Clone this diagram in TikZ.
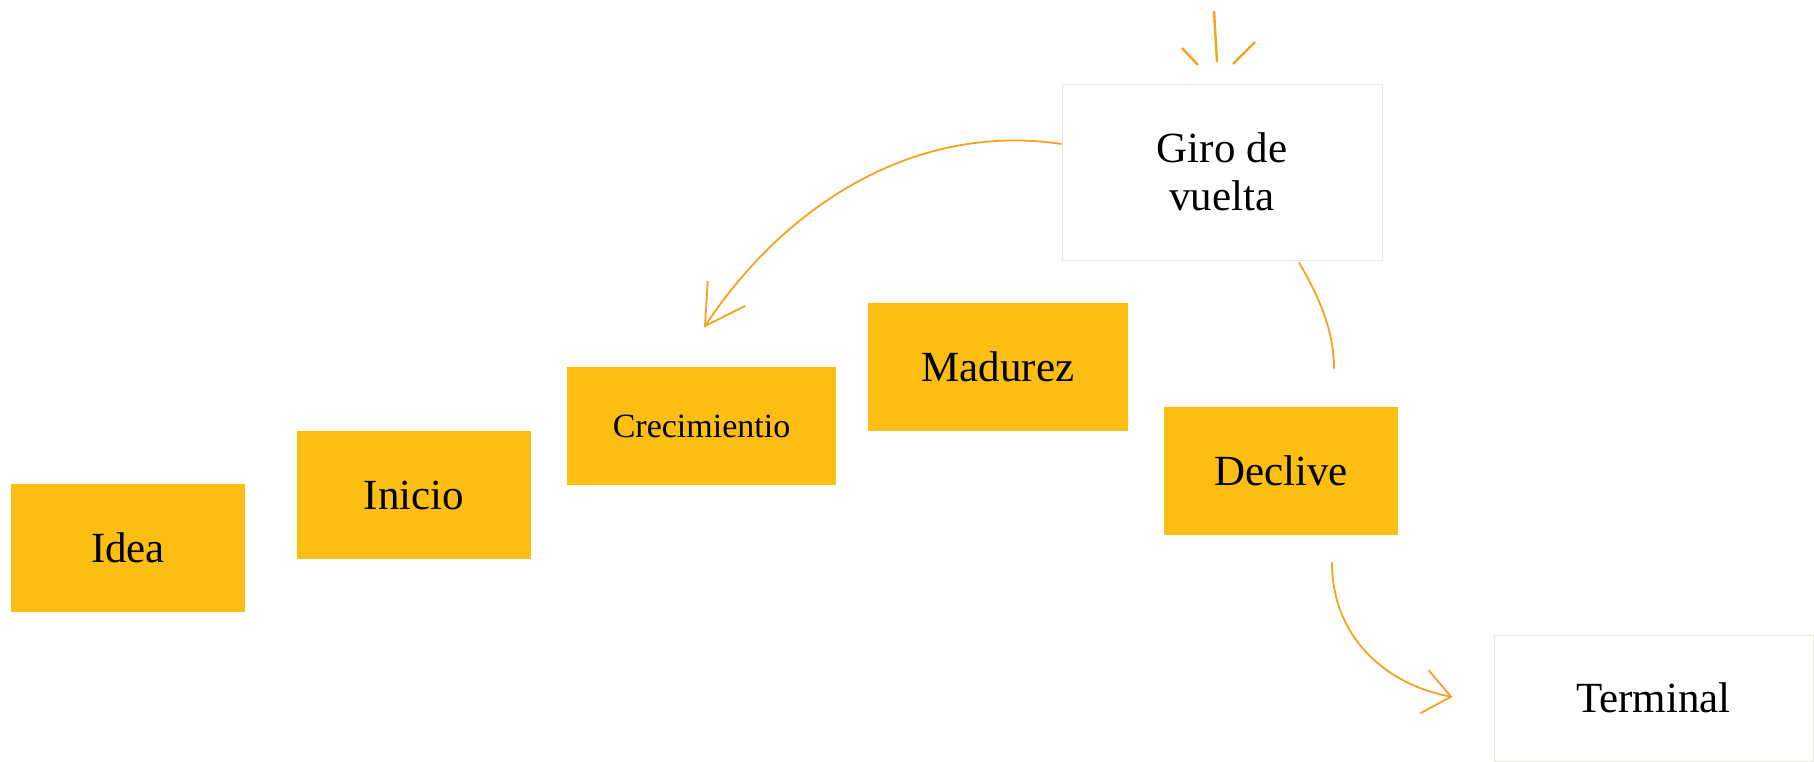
\documentclass[tikz,border=0pt]{standalone}
\usepackage{fontspec}
\setmainfont{Liberation Serif}
\usetikzlibrary{arrows.meta,calc}
\definecolor{boxfill}{HTML}{FCBE12}
\definecolor{lineorange}{HTML}{F7A21E}
\definecolor{edgegray}{HTML}{EAE6E2}
\begin{document}
\begin{tikzpicture}[x=0.5pt,y=-0.5pt,
  stage/.style={fill=boxfill, draw=none, inner sep=0pt, text=black, font=\fontsize{21.5}{24}\selectfont},
  plain/.style={fill=white, draw=edgegray, line width=0.5pt, inner sep=0pt, text=black, font=\fontsize{21.5}{24}\selectfont},
  flow/.style={draw=lineorange, line width=0.9pt},
  spark/.style={draw=lineorange, line width=1.2pt}]
\useasboundingbox (0,0) rectangle (1814,761);

% stages
\node[stage, minimum width=117pt, minimum height=64pt] (idea) at (128,548) {Idea};
\node[stage, minimum width=117pt, minimum height=64pt] (inicio) at (414,495) {Inicio};
\node[stage, minimum width=134.5pt, minimum height=59pt, font=\fontsize{17}{20}\selectfont] (crec) at (701.5,426) {Crecimientio};
\node[stage, minimum width=130pt, minimum height=64pt] (madurez) at (998,367) {Madurez};
\node[stage, minimum width=117pt, minimum height=64pt] (declive) at (1281,471) {Declive};
\node[plain, minimum width=160pt, minimum height=88pt, align=center] (giro) at (1222,172) {Giro de\\vuelta};
\node[plain, minimum width=159.5pt, minimum height=63pt] (term) at (1653.5,698) {Terminal};

% free ends
\coordinate (c1) at ($(crec.north)+(2.5,-39)$);
\coordinate (d1) at ($(declive.north)+(53,-38)$);
\coordinate (t1) at ($(term.west)+(-41,-1)$);

% connectors
\draw[flow, -{Straight Barb[length=19.5pt,width=22.5pt]}]
  ($(giro.west)+(0,-28)$) .. controls (915,122) and (785,205) .. (c1);
\draw[flow] ($(giro.south)+(77,2)$) .. controls (1321,300) and (1334,333) .. (d1);
\draw[flow, -{Straight Barb[length=13.6pt,width=22pt]}]
  ($(declive.south)+(51,27)$) .. controls (1332,636) and (1384,684) .. (t1);

% sparks above the turn box
\draw[spark] (1214,11) -- (1217,62);
\draw[spark] (1182,48) -- (1198,65);
\draw[spark] (1255,42) -- (1233,64);
\end{tikzpicture}
\end{document}
